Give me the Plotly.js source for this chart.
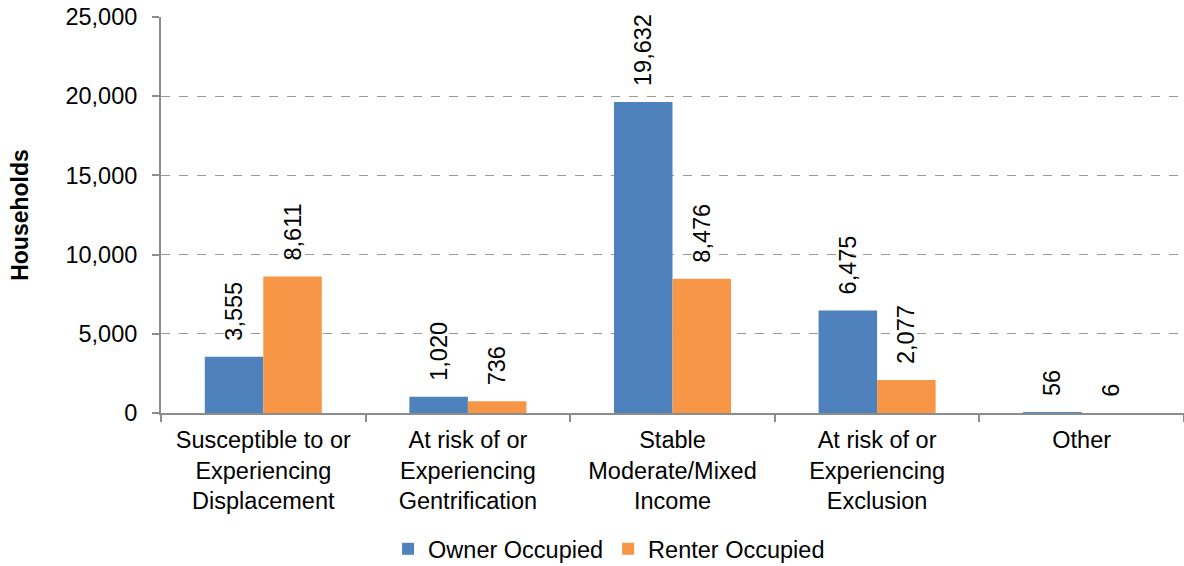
<!DOCTYPE html>
<html>
<head>
<meta charset="utf-8">
<script src="https://cdn.plot.ly/plotly-3.0.1.min.js"></script>
<style>
  html, body { margin: 0; padding: 0; background: #fff; }
  #chart { width: 1184px; height: 566px; }
</style>
</head>
<body>
<div id="chart"></div>
<script>
// Household counts by neighbourhood typology and tenure
const categories = [
  "Susceptible to or<br>Experiencing<br>Displacement",
  "At risk of or<br>Experiencing<br>Gentrification",
  "Stable<br>Moderate/Mixed<br>Income",
  "At risk of or<br>Experiencing<br>Exclusion",
  "Other"
];
const ownerOccupied = [3555, 1020, 19632, 6475, 56];
const renterOccupied = [8611, 736, 8476, 2077, 6];
const yTickValues = [0, 5000, 10000, 15000, 20000, 25000];
const yTickLabels = ["0", "5,000", "10,000", "15,000", "20,000", "25,000"];

const FONT = "Liberation Sans, Arial, sans-serif";
const pad = "\u00a0\u00a0";

function barTrace(name, values, color) {
  return {
    type: "bar",
    name: name,
    x: categories,
    y: values,
    marker: { color: color },
    text: values.map(v => pad + v.toLocaleString("en-US")),
    textposition: "outside",
    textangle: -90,
    textfont: { family: FONT, size: 23.5, color: "#000" },
    cliponaxis: false,
    constraintext: "none",
    hoverinfo: "x+y"
  };
}

const data = [
  barTrace("Owner Occupied", ownerOccupied, "#4F81BD"),
  barTrace("Renter Occupied", renterOccupied, "#F79646")
];

const layout = {
  width: 1184,
  height: 566,
  margin: { l: 161, r: 0, t: 16.5, b: 152.5, autoexpand: false },
  paper_bgcolor: "#fff",
  plot_bgcolor: "#fff",
  font: { family: FONT, size: 23.5, color: "#000" },
  barmode: "group",
  bargap: 0.428,
  bargroupgap: 0,
  showlegend: true,
  legend: {
    orientation: "h",
    x: 0.438,
    xanchor: "center",
    yref: "container",
    y: 0.03,
    yanchor: "middle",
    font: { family: FONT, size: 23.5, color: "#000" },
    itemwidth: 30,
    traceorder: "normal"
  },
  xaxis: {
    type: "category",
    automargin: false,
    showline: true,
    linecolor: "#8c8c8c",
    linewidth: 2,
    ticks: "outside",
    ticklen: 7,
    tickcolor: "#8c8c8c",
    tickwidth: 2,
    tickson: "boundaries",
    ticklabelstandoff: 5,
    showgrid: false,
    tickfont: { family: FONT, size: 23.5, color: "#000" },
    fixedrange: true
  },
  yaxis: {
    automargin: false,
    range: [0, 25000],
    tickvals: yTickValues,
    ticktext: yTickLabels,
    showline: true,
    linecolor: "#8c8c8c",
    linewidth: 2,
    ticks: "outside",
    ticklen: 7,
    tickcolor: "#8c8c8c",
    tickwidth: 2,
    ticklabelstandoff: 10,
    showgrid: true,
    gridcolor: "#999999",
    gridwidth: 1,
    griddash: "dash",
    zeroline: false,
    tickfont: { family: FONT, size: 23.5, color: "#000" },
    title: {
      text: "<b>Households</b>",
      font: { family: FONT, size: 23, color: "#000" },
      standoff: 30
    },
    fixedrange: true
  }
};

Plotly.newPlot("chart", data, layout, { displayModeBar: false, staticPlot: true });
</script>
</body>
</html>
